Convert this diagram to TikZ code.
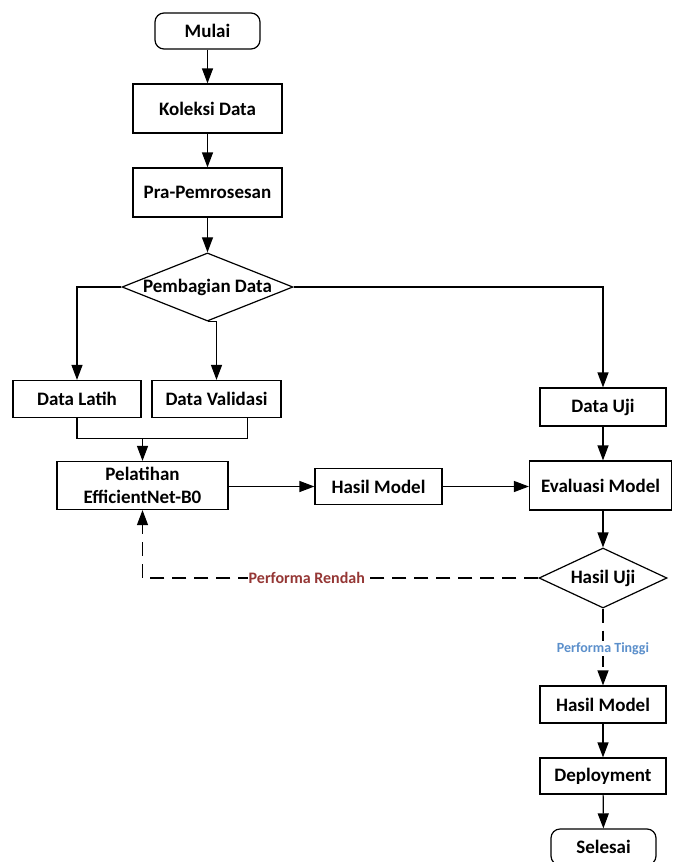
\documentclass[tikz,border=0pt]{standalone}
\usepackage{fontspec}
\setmainfont{Carlito}
\usetikzlibrary{shapes.geometric,arrows.meta}
\definecolor{lowred}{HTML}{953735}
\definecolor{highblue}{HTML}{5B8FCB}
\begin{document}
\begin{tikzpicture}[x=1pt,y=-1pt,
  base/.style={draw, line width=1.2pt, inner sep=0pt, align=center,
    font=\bfseries\fontsize{19}{23}\selectfont},
  stepbox/.style={base, rectangle},
  terminal/.style={base, rectangle, rounded corners=9pt},
  decision/.style={base, diamond},
  arr/.style={line width=1.2pt, -{Triangle[length=15pt,width=11pt]}},
  link/.style={line width=1.2pt},
  dasharr/.style={arr, dash pattern=on 14pt off 8pt},
  lbl/.style={fill=white, inner sep=1pt, font=\bfseries\fontsize{#1}{18}\selectfont}]
\useasboundingbox (0,0) rectangle (672,862);

% main column
\node[terminal, minimum width=105pt, minimum height=36pt] (mulai) at (207.5,31) {Mulai};
\node[stepbox, minimum width=149pt, minimum height=49pt] (koleksi) at (207.5,108.5) {Koleksi Data};
\node[stepbox, minimum width=149pt, minimum height=49pt] (pra) at (207.5,192.5) {Pra-Pemrosesan};
\node[decision, minimum width=171pt, minimum height=68pt, aspect=2.5] (bagi) at (207.5,287) {Pembagian Data};

% split
\node[stepbox, minimum width=128pt, minimum height=37pt] (latih) at (77,399) {Data Latih};
\node[stepbox, minimum width=129pt, minimum height=37pt] (valid) at (216.5,399) {Data Validasi};
\node[stepbox, minimum width=126pt, minimum height=38pt] (uji) at (603,407) {Data Uji};

% training and evaluation row
\node[stepbox, minimum width=171pt, minimum height=48pt] (pel) at (142.5,485.5) {Pelatihan\\EfficientNet-B0};
\node[stepbox, minimum width=127pt, minimum height=36pt] (hm1) at (378.5,486.5) {Hasil Model};
\node[stepbox, minimum width=142pt, minimum height=49pt] (eval) at (600.5,485.5) {Evaluasi Model};
\node[decision, minimum width=128pt, minimum height=60pt, aspect=2.1] (hasiluji) at (603,578) {Hasil Uji};

% final column
\node[stepbox, minimum width=126pt, minimum height=37pt] (hm2) at (603,704.5) {Hasil Model};
\node[stepbox, minimum width=126pt, minimum height=36pt] (dep) at (603,776) {Deployment};
\node[terminal, minimum width=105pt, minimum height=36pt] (selesai) at (603.5,847) {Selesai};

% connectors
\draw[arr] (mulai) -- (koleksi);
\draw[arr] (koleksi) -- (pra);
\draw[arr] (pra) -- (bagi);
\draw[arr] (bagi.west) -| (latih.north);
\draw[arr] (bagi.south) -- (bagi.south -| valid.north) -- (valid.north);
\draw[arr] (bagi.east) -| (uji.north);

\coordinate (merge) at (142.5,438.5);
\coordinate (vb) at ([xshift=-34pt]valid.south east);
\draw[link] (latih.south) -- (latih.south |- merge) -- (vb |- merge) -- (vb);
\draw[arr] (merge) -- (pel.north);

\draw[arr] (pel.east |- hm1.west) -- (hm1.west);
\draw[arr] (hm1.east) -- (hm1.east -| eval.west);
\draw[arr] (uji.south) -- (uji.south |- eval.north);
\draw[arr] (eval.south -| hasiluji.north) -- (hasiluji.north);

\draw[dasharr] (hasiluji.west) -- node[lbl=16, text=lowred, pos=0.585] {Performa Rendah}
  (hasiluji.west -| pel.south) -- (pel.south);
\draw[dasharr] (hasiluji.south) -- node[lbl=14, text=highblue, pos=0.52] {Performa Tinggi} (hm2.north);

\draw[arr] (hm2) -- (dep);
\draw[arr] (dep) -- (selesai);
\end{tikzpicture}
\end{document}
